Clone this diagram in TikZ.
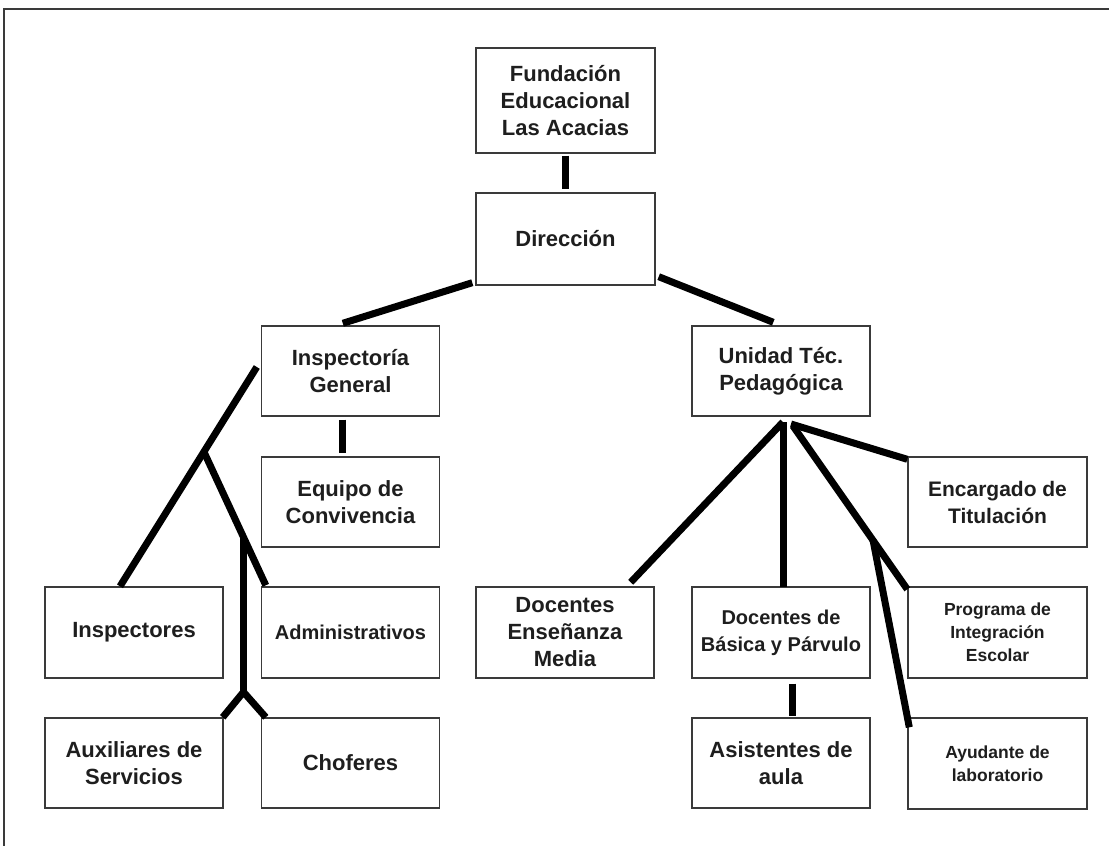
\documentclass[tikz,border=0pt]{standalone}
\usepackage{fontspec}
\setmainfont{Liberation Sans}
\definecolor{boxline}{HTML}{3A3A3A}
\definecolor{txt}{HTML}{1E1E1E}
\tikzset{
  box/.style={draw=boxline, line width=1.4pt, fill=white, minimum width=178pt, minimum height=90pt,
    inner sep=0pt, align=center, text=txt, font=\bfseries\fontsize{22}{27}\selectfont},
  smallbox/.style={box, font=\bfseries\fontsize{17.5}{23}\selectfont},
  midbox/.style={box, font=\bfseries\fontsize{20}{27}\selectfont},
  conn/.style={line width=7pt, black},
  frameline/.style={line width=1.4pt, boxline}
}
\begin{document}
\begin{tikzpicture}[x=1pt,y=-1pt]
\useasboundingbox (0,0) rectangle (1109,846);
\draw[frameline] (4,846) -- (4,9) -- (1109,9);

\node[box, minimum width=179pt, minimum height=105pt] (fund) at (565.5,100.5) {Fundación\\Educacional\\Las Acacias};
\node[box, minimum width=179pt, minimum height=92pt] (dir) at (565.5,239) {Dirección};
\node[box] (insp) at (350.5,371) {Inspectoría\\General};
\node[box] (utp) at (781,371) {Unidad Téc.\\Pedagógica};
\node[box] (equipo) at (350.5,502) {Equipo de\\Convivencia};
\node[box, minimum height=91pt] (inspectores) at (134,632.5) {Inspectores};
\node[midbox, minimum height=91pt] (admin) at (350.5,632.5) {Administrativos};
\node[box] (aux) at (134,763) {Auxiliares de\\Servicios};
\node[box] (chof) at (350.5,763) {Choferes};
\node[box, minimum height=91pt] (dem) at (565,632.5) {Docentes\\Enseñanza\\Media};
\node[midbox, minimum height=91pt] (dbp) at (781,632.5) {Docentes de\\Básica y Párvulo};
\node[box, minimum width=179pt, font=\bfseries\fontsize{21}{27}\selectfont] (enc) at (997.5,502) {Encargado de\\Titulación};
\node[smallbox, minimum width=179pt, minimum height=91pt] (prog) at (997.5,632.5) {Programa de\\Integración\\Escolar};
\node[box] (asis) at (781,763) {Asistentes de\\aula};
\node[smallbox, minimum width=179pt, minimum height=91pt] (ayu) at (997.5,763.5) {Ayudante de\\laboratorio};

% top
\draw[conn] ([shift={(0,2)}]fund.south) -- ([shift={(0,-3)}]dir.north);
\draw[conn] ([shift={(-3,-3)}]dir.south west) -- ([shift={(82,-2)}]insp.north west);
\draw[conn] ([shift={(3,-9)}]dir.south east) -- ([shift={(82,-3)}]utp.north west);

% Inspectoria branch
\draw[conn] ([shift={(-8,3)}]insp.south) -- ([shift={(-8,-3)}]equipo.north);
\coordinate (j1) at (204,452);
\coordinate (j2) at (243.5,537);
\coordinate (j3) at (243.5,692);
\draw[conn] ([shift={(-4,-4)}]insp.west) -- ([shift={(-14,0)}]inspectores.north);
\draw[conn] (j1) -- ([shift={(5,-1)}]admin.north west);
\draw[conn] (j2) -- (j3);
\draw[conn] (j3) -- ([shift={(-1,0)}]aux.north east);
\draw[conn] (j3) -- ([shift={(5,0)}]chof.north west);

% UTP branch
\coordinate (u0) at (783,422);
\coordinate (u1) at (791,424);
\coordinate (u2) at (793,426);
\coordinate (u3) at (873,540);
\draw[conn] (u0) -- ([shift={(-24,-4)}]dem.north east);
\draw[conn] (u0) -- ([shift={(2,1)}]dbp.north);
\draw[conn] (u1) -- ([shift={(0,3)}]enc.north west);
\draw[conn] (u2) -- ([shift={(0,3)}]prog.north west);
\draw[conn] (u3) -- ([shift={(2,10)}]ayu.north west);
\draw[conn] ([shift={(11,5)}]dbp.south) -- ([shift={(11,-1)}]asis.north);
\end{tikzpicture}
\end{document}
